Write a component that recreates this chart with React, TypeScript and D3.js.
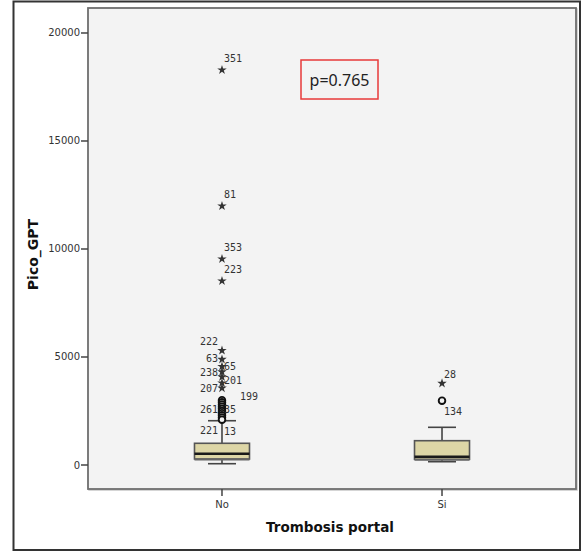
import React from "react";
import * as d3 from "d3";

// ---- data ----
const categories = ["No", "Si"];
const q1 = [278, 264];
const medians = [523, 384];
const q3 = [1005, 1125];
const whiskerLow = [60, 153];
const whiskerHigh = [2050, 1745];
// extreme outliers (stars)
const starGroup = ["No", "No", "No", "No", "No", "No", "No", "No", "No", "No", "No", "Si"];
const starValues = [18290, 11990, 9540, 8520, 5300, 4890, 4560, 4310, 4080, 3800, 3560, 3780];
// mild outliers (circles)
const circleGroup = ["No", "No", "No", "No", "No", "No", "No", "No", "No", "No", "Si"];
const circleValues = [3000, 2900, 2800, 2700, 2600, 2500, 2400, 2300, 2200, 2100, 2980];
// case labels
const labelText = ["351", "81", "353", "223", "222", "63", "65", "238", "201", "207", "199", "261", "35", "221", "13", "28", "134"];
const labelGroup = ["No", "No", "No", "No", "No", "No", "No", "No", "No", "No", "No", "No", "No", "No", "No", "Si", "Si"];
const labelValues = [18840, 12500, 10090, 9030, 5740, 4910, 4560, 4270, 3890, 3520, 3190, 2550, 2590, 1620, 1570, 4210, 2470];
const labelSide = ["r", "r", "r", "r", "l", "l", "r", "l", "r", "l", "r", "l", "r", "l", "r", "r", "r"];
const yTicks = [0, 5000, 10000, 15000, 20000];
const yTitle = "Pico_GPT";
const xTitle = "Trombosis portal";
const pText = "p=0.765";

// ---- layout ----
const W = 582, H = 552;
const panel = { left: 88, top: 8, right: 576, bottom: 489 };
const labelDx: Record<string, number> = { "199": 16 };

export default function App() {
  const y = d3.scaleLinear().domain([-1111, 21157]).range([panel.bottom, panel.top]);
  const x = d3.scalePoint<string>().domain(categories).range([panel.left, panel.right]).padding(0.609);
  const boxW = 55, capW = 28;
  const star = d3.symbol().type(d3.symbolStar).size(28)() as string;
  const sans = "DejaVu Sans, sans-serif";
  const mono = "DejaVu Sans Mono, monospace";

  return (
    <svg width={W} height={H} style={{ position: "absolute", left: 0, top: 0, background: "#fff" }}>
      {/* outer frame */}
      <rect x={13.5} y={1.5} width={566.5} height={548.5} fill="#fff" stroke="#333" strokeWidth={2} />
      {/* panel */}
      <rect x={panel.left + 1} y={panel.top + 1} width={panel.right - panel.left} height={panel.bottom - panel.top}
        fill="none" stroke="#c8c8c8" strokeWidth={1.5} />
      <rect x={panel.left} y={panel.top} width={panel.right - panel.left} height={panel.bottom - panel.top}
        fill="#f3f3f3" stroke="#6e6e6e" strokeWidth={1.8} />

      {/* y axis ticks */}
      {yTicks.map((t) => (
        <g key={t}>
          <line x1={panel.left - 7} x2={panel.left} y1={y(t)} y2={y(t)} stroke="#444" strokeWidth={1.5} />
          <text x={panel.left - 8} y={y(t)} dy="0.35em" textAnchor="end" fontFamily={sans} fontSize={10} fill="#333">{t}</text>
        </g>
      ))}
      {/* x axis ticks */}
      {categories.map((c) => (
        <g key={c}>
          <line x1={x(c)} x2={x(c)} y1={panel.bottom} y2={panel.bottom + 7} stroke="#444" strokeWidth={1.5} />
          <text x={x(c)} y={panel.bottom + 19} textAnchor="middle" fontFamily={sans} fontSize={10} fill="#333">{c}</text>
        </g>
      ))}

      {/* titles */}
      <text transform={`translate(38,${(panel.top + panel.bottom) / 2 + 6}) rotate(-90)`} textAnchor="middle"
        fontFamily={sans} fontWeight="bold" fontSize={14} fill="#111">{yTitle}</text>
      <text x={(panel.left + panel.right) / 2 - 2} y={532} textAnchor="middle" fontFamily={sans} fontWeight="bold" fontSize={13.5} fill="#111">{xTitle}</text>

      {/* boxes */}
      {categories.map((c, i) => {
        const cx = x(c) as number;
        return (
          <g key={c}>
            <line x1={cx} x2={cx} y1={y(q3[i])} y2={y(whiskerHigh[i])} stroke="#444" strokeWidth={1.6} />
            <line x1={cx} x2={cx} y1={y(q1[i])} y2={y(whiskerLow[i])} stroke="#444" strokeWidth={1.6} />
            <line x1={cx - capW / 2} x2={cx + capW / 2} y1={y(whiskerHigh[i])} y2={y(whiskerHigh[i])} stroke="#444" strokeWidth={1.6} />
            <line x1={cx - capW / 2} x2={cx + capW / 2} y1={y(whiskerLow[i])} y2={y(whiskerLow[i])} stroke="#444" strokeWidth={1.6} />
            <rect x={cx - boxW / 2} y={y(q3[i])} width={boxW} height={y(q1[i]) - y(q3[i])}
              fill="#ddd6a6" stroke="#555" strokeWidth={1.6} />
            <line x1={cx - boxW / 2} x2={cx + boxW / 2} y1={y(q1[i]) + 0.5} y2={y(q1[i]) + 0.5} stroke="#666" strokeWidth={1.8} />
            <line x1={cx - boxW / 2} x2={cx + boxW / 2} y1={y(medians[i])} y2={y(medians[i])} stroke="#1a1a1a" strokeWidth={2.4} />
          </g>
        );
      })}

      {/* circles */}
      {circleValues.map((v, i) => (
        <circle key={"c" + i} cx={x(circleGroup[i])} cy={y(v)} r={3.3} fill="#f3f3f3" stroke="#111" strokeWidth={1.9} />
      ))}
      {/* stars */}
      {starValues.map((v, i) => (
        <path key={"s" + i} d={star} transform={`translate(${x(starGroup[i])},${y(v)})`} fill="#333" />
      ))}
      {/* labels */}
      {labelText.map((t, i) => {
        const cx = x(labelGroup[i]) as number;
        const right = labelSide[i] === "r";
        const dx = labelDx[t] ?? 0;
        return (
          <text key={"l" + i} x={right ? cx + 2 + dx : cx - 4} y={y(labelValues[i])} dy="0.35em"
            textAnchor={right ? "start" : "end"} fontFamily={mono} fontSize={10} fill="#333">{t}</text>
        );
      })}

      {/* p-value box */}
      <rect x={301} y={60} width={77} height={39} fill="none" stroke="#e83a3a" strokeWidth={1.5} />
      <text x={339.5} y={80} dy="0.35em" textAnchor="middle" fontFamily="Noto Sans, sans-serif" fontSize={16} fill="#222">{pText}</text>
    </svg>
  );
}
